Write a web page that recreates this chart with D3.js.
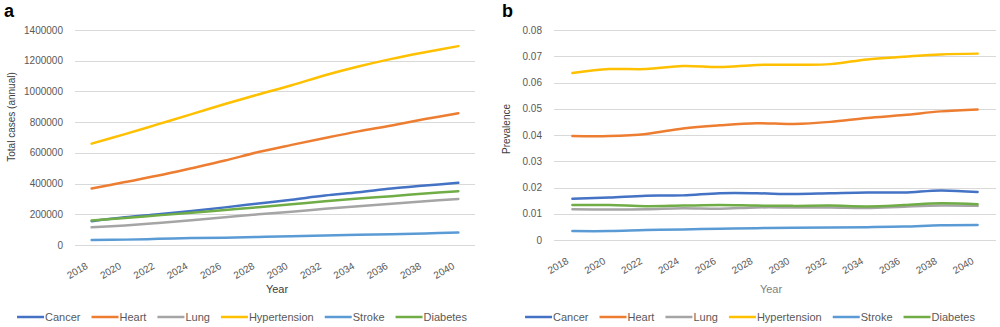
<!DOCTYPE html>
<html>
<head>
<meta charset="utf-8">
<script src="https://cdn.jsdelivr.net/npm/d3@7/dist/d3.min.js"></script>
<style>
  body { margin: 0; background: #fff; }
  svg { display: block; font-family: "Liberation Sans", Arial, sans-serif; }
  .grid line { stroke: #d9d9d9; stroke-width: 1; }
  .tick-label { fill: #595959; font-size: 10px; }
  .legend-label { fill: #595959; font-size: 11px; }
</style>
</head>
<body>
<svg id="chart" width="1000" height="327"></svg>
<script>
const years = ['2018','2020','2022','2024','2026','2028','2030','2032','2034','2036','2038','2040'];
const seriesNames = ['Cancer','Heart','Lung','Hypertension','Stroke','Diabetes'];
const seriesColors = ['#4472c4','#ed7d31','#a5a5a5','#ffc000','#5b9bd5','#70ad47'];

// panel a: total cases (annual)
const casesCancer       = [155000,180000,200000,222000,245000,270000,295000,322000,343000,368000,387000,405000];
const casesHeart        = [368000,410000,452000,500000,550000,605000,652000,697000,740000,778000,820000,858000];
const casesLung         = [115000,127000,143000,161000,180000,200000,216000,236000,253000,268000,285000,300000];
const casesHypertension = [660000,722000,787000,852000,918000,980000,1040000,1105000,1162000,1212000,1255000,1295000];
const casesStroke       = [33000,35000,40000,45000,48000,52000,57000,62000,66000,70000,75000,82000];
const casesDiabetes     = [160000,176000,193000,210000,228000,246000,265000,285000,303000,318000,335000,350000];
const casesTicks = [0,200000,400000,600000,800000,1000000,1200000,1400000];

// panel b: prevalence
const prevCancer       = [0.0157,0.0162,0.0169,0.0170,0.0178,0.0178,0.0175,0.0178,0.0181,0.0181,0.0189,0.0183];
const prevHeart        = [0.0396,0.0396,0.0404,0.0425,0.0437,0.0445,0.0442,0.0450,0.0465,0.0476,0.0490,0.0497];
const prevLung         = [0.0117,0.0116,0.0117,0.0121,0.0119,0.0124,0.0124,0.0124,0.0122,0.0127,0.0131,0.0130];
const prevHypertension = [0.0636,0.0651,0.0651,0.0663,0.0659,0.0667,0.0668,0.0670,0.0688,0.0698,0.0707,0.0710];
const prevStroke       = [0.0034,0.0034,0.0038,0.0040,0.0043,0.0045,0.0047,0.0048,0.0049,0.0051,0.0056,0.0057];
const prevDiabetes     = [0.0133,0.0133,0.0129,0.0131,0.0133,0.0131,0.0130,0.0131,0.0128,0.0133,0.0140,0.0136];
const prevTicks = [0,0.01,0.02,0.03,0.04,0.05,0.06,0.07,0.08];

const svg = d3.select('#chart');

function drawPanel(opts) {
  const g = svg.append('g');

  const x = d3.scalePoint()
    .domain(years)
    .range([opts.left, opts.right])
    .padding(0.5);

  const y = d3.scaleLinear()
    .domain([0, opts.ticks[opts.ticks.length - 1]])
    .range([opts.bottom, opts.top]);

  // horizontal gridlines
  g.append('g').attr('class', 'grid')
    .selectAll('line')
    .data(opts.ticks)
    .join('line')
      .attr('x1', opts.left)
      .attr('x2', opts.right)
      .attr('y1', d => Math.round(y(d)) + 0.5)
      .attr('y2', d => Math.round(y(d)) + 0.5);

  // y tick labels
  g.append('g')
    .selectAll('text')
    .data(opts.ticks)
    .join('text')
      .attr('class', 'tick-label')
      .attr('x', opts.left - 12)
      .attr('y', d => y(d))
      .attr('dy', '0.35em')
      .attr('text-anchor', 'end')
      .text(opts.format);

  // x tick labels, rotated
  g.append('g')
    .selectAll('text')
    .data(years)
    .join('text')
      .attr('class', 'tick-label')
      .attr('text-anchor', 'end')
      .attr('transform', d => 'translate(' + (x(d) - 3) + ',' + (opts.bottom + 23) + ') rotate(-30)')
      .text(d => d);

  // series lines
  const line = d3.line()
    .x((d, i) => x(years[i]))
    .y(d => y(d))
    .curve(d3.curveCatmullRom.alpha(0.5));

  g.append('g')
    .selectAll('path')
    .data(opts.series)
    .join('path')
      .attr('fill', 'none')
      .attr('stroke', (d, i) => seriesColors[i])
      .attr('stroke-width', 2.5)
      .attr('stroke-linecap', 'round')
      .attr('d', d => line(d));

  // axis titles and panel letter
  g.append('text')
    .attr('x', (opts.left + opts.right) / 2 + opts.xTitleShift)
    .attr('y', 293)
    .attr('text-anchor', 'middle')
    .attr('fill', opts.xTitleColor)
    .style('font-size', '11px')
    .text('Year');

  g.append('text')
    .attr('transform', 'translate(' + opts.yTitleX + ',' + opts.yTitleY + ') rotate(-90)')
    .attr('text-anchor', 'middle')
    .attr('fill', '#404040')
    .style('font-size', '10px')
    .text(opts.yTitle);

  g.append('text')
    .attr('x', opts.letterX)
    .attr('y', 17)
    .attr('fill', '#000')
    .style('font-size', '18px')
    .style('font-weight', 'bold')
    .text(opts.letter);

  // legend, centred under the panel
  const legend = g.append('g');
  const items = legend.selectAll('g')
    .data(seriesNames)
    .join('g');
  items.append('line')
    .attr('x1', 0).attr('x2', 27)
    .attr('y1', 0).attr('y2', 0)
    .attr('stroke', (d, i) => seriesColors[i])
    .attr('stroke-width', 2.5);
  items.append('text')
    .attr('class', 'legend-label')
    .attr('x', 28)
    .attr('dy', '0.35em')
    .text(d => d);

  let pos = 0;
  items.each(function() {
    const w = this.querySelector('text').getComputedTextLength();
    d3.select(this).attr('transform', 'translate(' + pos + ',0)');
    pos += 28 + w + 11;
  });
  const total = pos - 11;
  legend.attr('transform', 'translate(' + (opts.legendCenter - total / 2) + ',317)');
}

drawPanel({
  left: 75, right: 475, top: 30, bottom: 245,
  ticks: casesTicks,
  format: d => d3.format('d')(d),
  series: [casesCancer, casesHeart, casesLung, casesHypertension, casesStroke, casesDiabetes],
  yTitle: 'Total cases (annual)', yTitleX: 15, yTitleY: 117,
  xTitleColor: '#404040', xTitleShift: 2,
  letter: 'a', letterX: 4,
  legendCenter: 242
});

drawPanel({
  left: 554, right: 996, top: 30, bottom: 240,
  ticks: prevTicks,
  format: d => d === 0 ? '0' : d3.format('.2f')(d),
  series: [prevCancer, prevHeart, prevLung, prevHypertension, prevStroke, prevDiabetes],
  yTitle: 'Prevalence', yTitleX: 510, yTitleY: 129,
  xTitleColor: '#7f7f7f', xTitleShift: -4,
  letter: 'b', letterX: 502,
  legendCenter: 750
});
</script>
</body>
</html>
